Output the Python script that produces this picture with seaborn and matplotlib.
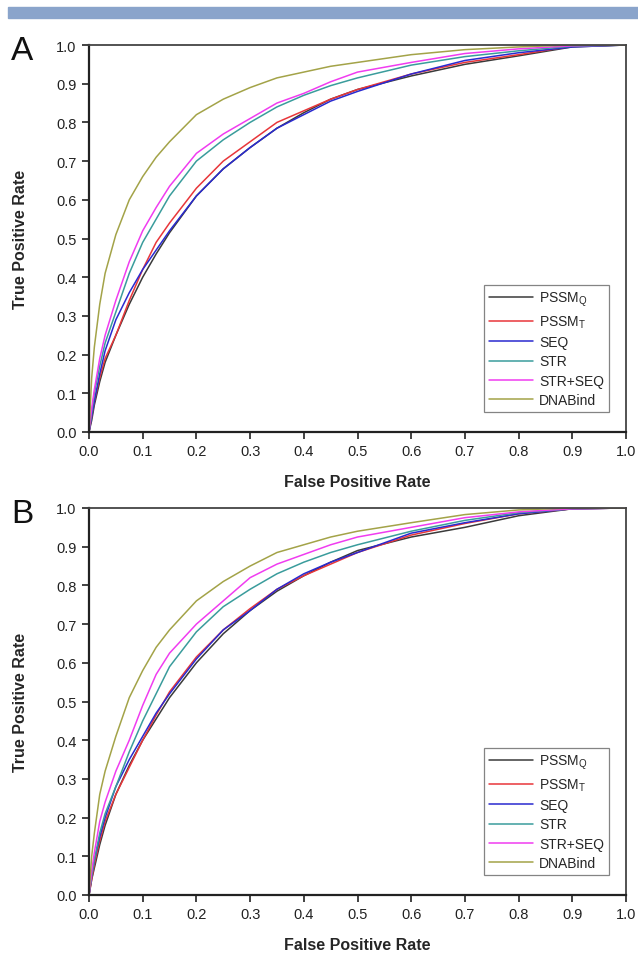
import numpy as np
import pandas as pd
import matplotlib
matplotlib.use('Agg')
import matplotlib.pyplot as plt
import seaborn as sns

# curvas ROC (FPR comum para todas)
fpr = [0, 0.005, 0.01, 0.02, 0.03, 0.05, 0.075, 0.1, 0.125, 0.15, 0.2, 0.25,
       0.3, 0.35, 0.4, 0.45, 0.5, 0.6, 0.7, 0.8, 0.9, 1.0]

metodos = ['PSSM$_\\mathregular{Q}$', 'PSSM$_\\mathregular{T}$', 'SEQ', 'STR', 'STR+SEQ', 'DNABind']
cores = ['#3a3a3a', '#e8363a', '#2a2ad0', '#3a9c9c', '#f03cf0', '#a3a348']

# painel A
a_pssm_q = [0, 0.03, 0.07, 0.13, 0.18, 0.25, 0.33, 0.40, 0.46, 0.515, 0.61, 0.68,
            0.735, 0.785, 0.825, 0.86, 0.885, 0.92, 0.95, 0.972, 0.995, 1.0]
a_pssm_t = [0, 0.04, 0.08, 0.14, 0.19, 0.25, 0.34, 0.42, 0.49, 0.54, 0.63, 0.70,
            0.75, 0.80, 0.83, 0.86, 0.885, 0.925, 0.955, 0.975, 0.997, 1.0]
a_seq = [0, 0.04, 0.08, 0.15, 0.21, 0.29, 0.36, 0.42, 0.47, 0.52, 0.61, 0.68,
         0.735, 0.785, 0.82, 0.855, 0.88, 0.925, 0.96, 0.98, 0.995, 1.0]
a_str = [0, 0.05, 0.10, 0.17, 0.23, 0.31, 0.41, 0.49, 0.55, 0.61, 0.70, 0.755,
         0.80, 0.84, 0.87, 0.895, 0.915, 0.948, 0.97, 0.985, 0.997, 1.0]
a_str_seq = [0, 0.06, 0.11, 0.19, 0.25, 0.34, 0.44, 0.52, 0.58, 0.635, 0.72, 0.77,
             0.81, 0.85, 0.875, 0.905, 0.93, 0.955, 0.978, 0.99, 0.998, 1.0]
a_dnabind = [0, 0.14, 0.22, 0.33, 0.41, 0.51, 0.60, 0.66, 0.71, 0.75, 0.82, 0.86,
             0.89, 0.915, 0.93, 0.945, 0.955, 0.975, 0.988, 0.995, 1.0, 1.0]

# painel B
b_pssm_q = [0, 0.04, 0.07, 0.13, 0.18, 0.26, 0.335, 0.40, 0.455, 0.51, 0.60, 0.675,
            0.735, 0.785, 0.825, 0.86, 0.89, 0.925, 0.95, 0.98, 0.998, 1.0]
b_pssm_t = [0, 0.04, 0.08, 0.14, 0.19, 0.26, 0.33, 0.40, 0.465, 0.525, 0.615, 0.685,
            0.74, 0.79, 0.825, 0.855, 0.885, 0.93, 0.96, 0.985, 0.998, 1.0]
b_seq = [0, 0.05, 0.09, 0.15, 0.20, 0.28, 0.35, 0.41, 0.47, 0.52, 0.61, 0.685,
         0.735, 0.79, 0.83, 0.86, 0.885, 0.935, 0.962, 0.985, 0.998, 1.0]
b_str = [0, 0.05, 0.09, 0.16, 0.21, 0.28, 0.37, 0.45, 0.52, 0.59, 0.68, 0.745,
         0.79, 0.83, 0.86, 0.885, 0.905, 0.94, 0.968, 0.988, 0.998, 1.0]
b_str_seq = [0, 0.06, 0.11, 0.19, 0.24, 0.32, 0.40, 0.49, 0.57, 0.625, 0.70, 0.76,
             0.82, 0.855, 0.88, 0.905, 0.925, 0.95, 0.975, 0.99, 0.998, 1.0]
b_dnabind = [0, 0.10, 0.16, 0.26, 0.32, 0.41, 0.51, 0.58, 0.64, 0.685, 0.76, 0.81,
             0.85, 0.885, 0.905, 0.925, 0.94, 0.962, 0.983, 0.995, 1.0, 1.0]

paineis = {
    'A': [a_pssm_q, a_pssm_t, a_seq, a_str, a_str_seq, a_dnabind],
    'B': [b_pssm_q, b_pssm_t, b_seq, b_str, b_str_seq, b_dnabind],
}

sns.set_style('white')
plt.rcParams['font.family'] = ['Liberation Sans', 'DejaVu Sans']
plt.rcParams['mathtext.fontset'] = 'custom'
plt.rcParams['mathtext.rm'] = 'Liberation Sans'

fig = plt.figure(figsize=(6.38, 9.54), dpi=100)
fig.patches.append(plt.Rectangle((8 / 638, 1 - 19 / 954), 630 / 638, 11 / 954,
                                 transform=fig.transFigure, color='#8aa4cb', zorder=0))

posicoes = {'A': [89 / 638, (954 - 433) / 954, 537 / 638, 387 / 954],
            'B': [89 / 638, (954 - 896) / 954, 537 / 638, 387 / 954]}
ticks = np.round(np.arange(0, 1.01, 0.1), 1)

for letra, curvas in paineis.items():
    ax = fig.add_axes(posicoes[letra])
    linhas = []
    for nome, tpr, cor in zip(metodos, curvas, cores):
        df = pd.DataFrame({'fpr': fpr, 'tpr': tpr})
        sns.lineplot(data=df, x='fpr', y='tpr', color=cor, linewidth=1.1, ax=ax,
                     estimator=None, sort=False)
        linhas.append(ax.lines[-1])

    ax.set_xlim(0, 1)
    ax.set_ylim(0, 1)
    ax.set_xticks(ticks)
    ax.set_yticks(ticks)
    ax.set_xticklabels([f'{t:.1f}' for t in ticks])
    ax.set_yticklabels([f'{t:.1f}' for t in ticks])
    ax.tick_params(direction='out', length=5, width=1.2, labelsize=10.5, colors='#222222',
                   bottom=True, left=True, pad=4)
    for lado in ['left', 'bottom']:
        ax.spines[lado].set_linewidth(1.6)
        ax.spines[lado].set_color('#222222')
    for lado in ['top', 'right']:
        ax.spines[lado].set_linewidth(1.3)
        ax.spines[lado].set_color('#444444')

    ax.set_xlabel('False Positive Rate', fontsize=11.5, fontweight='bold', labelpad=11)
    ax.set_ylabel('True Positive Rate', fontsize=11.5, fontweight='bold', labelpad=20)

    leg = ax.legend(linhas, metodos, loc='lower right', bbox_to_anchor=(0.968, 0.052),
                    fontsize=10, frameon=True, fancybox=False, handlelength=3.2,
                    handletextpad=0.4, labelspacing=0.38, borderpad=0.35,
                    borderaxespad=0)
    leg.get_frame().set_edgecolor('#666666')
    leg.get_frame().set_linewidth(0.9)

    ax.text(-0.145, 0.985, letra, transform=ax.transAxes, fontsize=24,
            ha='left', va='center', color='#111111')

plt.savefig('out.png', dpi=100)
